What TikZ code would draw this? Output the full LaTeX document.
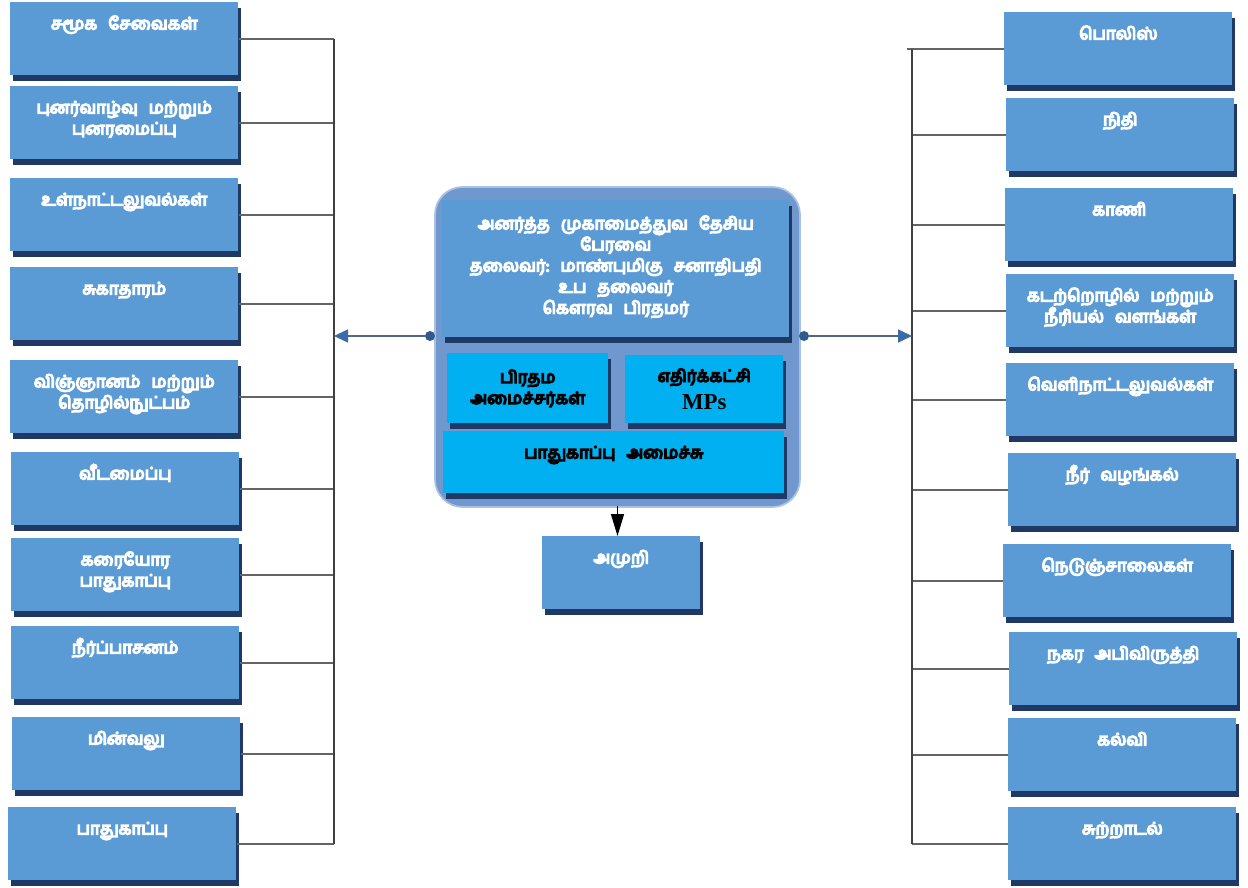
\documentclass[tikz,border=0pt]{standalone}
\usepackage{fontspec}
\newfontfamily\tamil[Script=Tamil, FakeBold=8]{Hind Madurai}
\newfontfamily\mpsfont{Liberation Serif}
\newcommand\tamtext{\tamil\fontsize{9.6}{12}\selectfont}
\newcommand\wsp{\hspace{0.65em}}
\usetikzlibrary{positioning,shadows,arrows.meta}

\definecolor{deptblue}{RGB}{91,155,213}
\definecolor{shadenavy}{RGB}{31,56,100}
\definecolor{councilblue}{RGB}{112,152,207}
\definecolor{wingcyan}{RGB}{0,176,240}
\definecolor{linkgray}{RGB}{100,100,100}
\definecolor{tipblue}{RGB}{59,106,168}

\tikzset{
  navyshadow/.style={drop shadow={fill=shadenavy, opacity=1, shadow xshift=0.06cm, shadow yshift=-0.12cm}},
  dept/.style={anchor=north west, fill=deptblue, text=white, navyshadow,
    font=\tamtext, align=center, inner sep=0pt,
    text width=4.56cm, text height=0.54cm, text depth=0.92cm},
  wing/.style={anchor=north west, fill=wingcyan, text=black, navyshadow,
    font=\tamtext, align=center, inner sep=0pt},
  council/.style={fill=councilblue, draw=councilblue!60!white, line width=1pt,
    rounded corners=0.55cm, minimum width=7.3cm, minimum height=6.4cm},
  hub/.style={circle, fill=tipblue!85!black, inner sep=0pt, minimum size=0.2cm},
  link/.style={draw=linkgray, line width=0.8pt},
  bus/.style={draw=black!75, line width=0.7pt},
  feed/.style={draw=linkgray!50!tipblue, line width=0.8pt, -{Triangle[length=0.28cm,width=0.26cm,color=tipblue]}},
  down/.style={draw=black, line width=0.7pt, -{Triangle[length=0.44cm,width=0.26cm]}}
}

\begin{document}
\begin{tikzpicture}[x=0.02cm, y=-0.02cm]
  \useasboundingbox (0,0) rectangle (1248,888);

  % left column
  \node[dept] (l1) at (10,2) {சமூக\wsp சேவைகள்};
  \node[dept] (l2) at (10,86) {புனர்வாழ்வு\wsp மற்றும்\\புனரமைப்பு};
  \node[dept] (l3) at (10,178) {உள்நாட்டலுவல்கள்};
  \node[dept] (l4) at (10,267) {சுகாதாரம்};
  \node[dept] (l5) at (10,360) {விஞ்ஞானம்\wsp மற்றும்\\தொழில்நுட்பம்};
  \node[dept] (l6) at (11,452) {வீடமைப்பு};
  \node[dept] (l7) at (11,538) {கரையோர\\பாதுகாப்பு};
  \node[dept] (l8) at (11,626) {நீர்ப்பாசனம்};
  \node[dept] (l9) at (12,717) {மின்வலு};
  \node[dept] (l10) at (8,807) {பாதுகாப்பு};

  % right column
  \node[dept] (r1) at (1004,12) {பொலிஸ்};
  \node[dept] (r2) at (1006,98) {நிதி};
  \node[dept] (r3) at (1005,188) {காணி};
  \node[dept] (r4) at (1006,274) {கடற்றொழில்\wsp மற்றும்\\நீரியல்\wsp வளங்கள்};
  \node[dept] (r5) at (1006,363) {வெளிநாட்டலுவல்கள்};
  \node[dept] (r6) at (1008,453) {நீர்\wsp வழங்கல்};
  \node[dept] (r7) at (1003,544) {நெடுஞ்சாலைகள்};
  \node[dept] (r8) at (1009,632) {நகர\wsp அபிவிருத்தி};
  \node[dept] (r9) at (1008,718) {கல்வி};
  \node[dept] (r10) at (1008,807) {சுற்றாடல்};

  % council in the middle
  \node[council] (council) at (617.5,347) {};
  \node[dept, text width=6.94cm, text height=0.58cm, text depth=2.16cm] (head) at (442,200)
    {அனர்த்த\wsp முகாமைத்துவ\wsp தேசிய\\பேரவை\\தலைவர்:\wsp மாண்புமிகு\wsp சனாதிபதி\\உப\wsp தலைவர்\\கௌரவ\wsp பிரதமர்};
  \node[wing, minimum width=3.22cm, minimum height=1.4cm] (pm) at (447,353) {பிரதம\\அமைச்சர்கள்};
  \node[wing, minimum width=3.16cm, minimum height=1.36cm] (opp) at (625,355)
    {எதிர்க்கட்சி\\[4pt]{\mpsfont\bfseries\fontsize{13}{13}\selectfont MPs}};
  \node[wing, text width=6.82cm, text height=0.54cm, text depth=0.7cm] (defence) at (443,431) {பாதுகாப்பு\wsp அமைச்சு};

  \node[dept, text width=3.16cm] (amurai) at (542,536) {அமுறி};

  \node[hub] (ldot) at (430,336) {};
  \node[hub] (rdot) at (804,336) {};

  % buses
  \coordinate (lbus) at (334,0);
  \coordinate (rbus) at (912,0);

  \draw[link] (l1.east) -- (l1.east -| lbus);
  \draw[link] (l2.east) -- (l2.east -| lbus);
  \draw[link] (l3.east) -- (l3.east -| lbus);
  \draw[link] (l4.east) -- (l4.east -| lbus);
  \draw[link] (l5.east) -- (l5.east -| lbus);
  \draw[link] (l6.east) -- (l6.east -| lbus);
  \draw[link] (l7.east) -- (l7.east -| lbus);
  \draw[link] (l8.east) -- (l8.east -| lbus);
  \draw[link] (l9.east) -- (l9.east -| lbus);
  \draw[link] (l10.east) -- (l10.east -| lbus);
  \draw[bus] (l1.east -| lbus) -- (l10.east -| lbus);

  \draw[link] (r1.west) -- ([xshift=-0.1cm]r1.west -| rbus);
  \draw[link] (r2.west) -- (r2.west -| rbus);
  \draw[link] (r3.west) -- (r3.west -| rbus);
  \draw[link] (r4.west) -- (r4.west -| rbus);
  \draw[link] (r5.west) -- (r5.west -| rbus);
  \draw[link] (r6.west) -- (r6.west -| rbus);
  \draw[link] (r7.west) -- (r7.west -| rbus);
  \draw[link] (r8.west) -- (r8.west -| rbus);
  \draw[link] (r9.west) -- (r9.west -| rbus);
  \draw[link] (r10.west) -- (r10.west -| rbus);
  \draw[bus] (r1.west -| rbus) -- (r10.west -| rbus);

  % arrows out of the council
  \draw[feed] (ldot) -- (ldot -| lbus);
  \draw[feed] (rdot) -- (rdot -| rbus);
  \draw[down] ([yshift=0.04cm]council.south) -- (council.south |- amurai.north);
\end{tikzpicture}
\end{document}
